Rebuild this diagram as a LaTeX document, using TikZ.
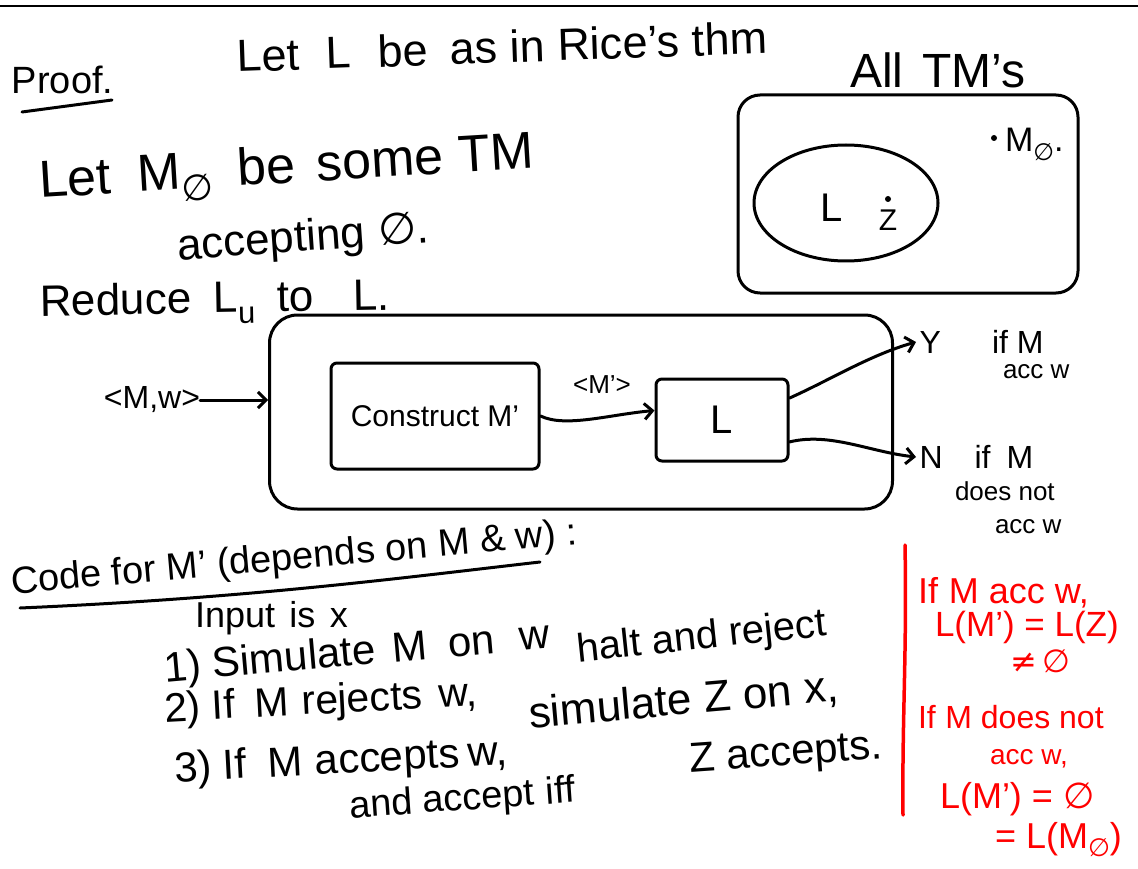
\documentclass[tikz,border=0pt]{standalone}
\usepackage{graphicx}
\usepackage{fontspec}
\setmainfont{Liberation Sans}
\newfontfamily\symf{DejaVu Sans}
\usetikzlibrary{arrows.meta,shapes.geometric}
\definecolor{ink}{RGB}{0,0,0}
\definecolor{redink}{RGB}{255,0,0}
\newcommand{\fs}[1]{\fontsize{#1}{#1}\selectfont}
\newcommand{\es}{{\symf ∅}}
\newcommand{\subs}[1]{\raisebox{-0.45ex}{\scalebox{0.7}{#1}}}
\begin{document}
\begin{tikzpicture}[x=1pt,y=-1pt, line width=3pt, line cap=round, line join=round,
  txt/.style={anchor=base west, inner sep=0pt, outer sep=0pt, text=ink},
  rtxt/.style={txt, text=redink},
  ctr/.style={inner sep=0pt, outer sep=0pt, text=ink},
  dotmark/.style={circle, fill=ink, inner sep=0pt, minimum size=6pt},
  pen/.style={draw=ink, line width=3pt},
  boxA/.style={pen, rectangle, rounded corners=6pt},
  bigbox/.style={pen, rectangle, rounded corners=28pt},
  tip/.style={pen, -{Straight Barb[length=8pt,width=16pt]}}]
\useasboundingbox[fill=white] (0,0) rectangle (1138,869);
% top rule
\coordinate (ruleL) at (0,6);
\coordinate (ruleR) at (1138,6);
\draw[pen, line width=2.5pt] (ruleL) -- (ruleR);

% heading texts
\node[txt, rotate=2] (t1) at (237,72) {\fs{45}Let\hspace{0.6em}L\hspace{0.6em}be\hspace{0.5em}as in Rice's thm};
\node[txt] (alltm) at (850,88) {\fs{48}All\hspace{0.4em}TM's};
\node[txt] (proof) at (12,94) {\fs{38}Proof.};
\coordinate (ulA) at (22,112);
\coordinate (ulB) at (112,100);
\draw[pen] (ulA) -- (ulB);
\node[txt, rotate=3.5] (t2) at (40,198) {\fs{52}Let\hspace{0.5em}M\subs{\es}\hspace{0.5em}be\hspace{0.4em}some\hspace{0.3em}TM};
\node[txt, rotate=4] (t3) at (178,260) {\fs{44}accepting\hspace{0.3em}\es.};
\node[txt, rotate=1] (t4) at (40,316) {\fs{44}Reduce\hspace{0.5em}L\subs{u}\hspace{0.5em}to\hspace{0.9em}L.};

% All TM's set diagram
\node[pen, rectangle, rounded corners=22pt, minimum width=340pt, minimum height=198pt] (all) at (908,194) {};
\node[pen, ellipse, minimum width=184pt, minimum height=116pt] (Lset) at (846,203) {};
\node[ctr] (Lin) at (832,208) {\fs{40}L};
\node[dotmark] (zdot) at (888,199) {};
\node[ctr] (Z) at (888,220) {\fs{30}Z};
\node[dotmark] (mdot) at (994,138) {};
\node[txt] (m0) at (1005,152) {\fs{34}M\subs{\es}.};

% reduction diagram
\node[bigbox, minimum width=623pt, minimum height=194pt] (redbox) at (581,412) {};
\node[boxA, minimum width=208pt, minimum height=106pt] (con) at (435,416) {\fs{30}Construct M'};
\node[boxA, minimum width=132pt, minimum height=82pt] (Lb) at (722,420) {\fs{40}L};
\node[ctr] (inp) at (152,400) {\fs{32}<M,w>};
\draw[tip] (inp.east) -- (redbox.west |- inp.east);
\node[ctr] (mp) at (602,385) {\fs{26}<M'>};
\draw[tip] (con.east) .. controls +(25,12) and +(-45,4) .. (Lb.172);
\node[anchor=west, inner sep=2pt] (ylab) at (916,342) {\fs{32}Y\hspace{1.6em}if M};
\node[txt] (yacc) at (1003,378) {\fs{26}acc w};
\draw[tip] (Lb.18) .. controls (830,380) and (870,355) .. (ylab.west);
\node[anchor=west, inner sep=2pt] (nlab) at (916,457) {\fs{32}N\hspace{1em}if\hspace{0.5em}M};
\node[txt] (ndoes) at (955,500) {\fs{26}does not};
\node[txt] (nacc) at (995,533) {\fs{26}acc w};
\draw[tip] (Lb.-18) .. controls (830,432) and (870,452) .. (nlab.west);

% code for M'
\node[txt, rotate=5] (code) at (12,594) {\fs{38}Code for M' (depends on M \& w) :};
\coordinate (cuA) at (20,608);
\coordinate (cuB) at (540,562);
\draw[pen] (cuA) .. controls (250,598) and (400,578) .. (cuB);
\node[txt] (inpx) at (195,627) {\fs{36}Input\hspace{0.4em}is\hspace{0.4em}x};
\node[txt, rotate=5] (s1) at (165,682) {\fs{42}1) Simulate\hspace{0.4em}M\hspace{0.5em}on\hspace{0.6em}w};
\node[txt, rotate=6] (s1b) at (578,662) {\fs{40}halt and reject};
\node[txt, rotate=3] (s2) at (165,722) {\fs{41}2) If\hspace{0.5em}M\hspace{0.3em}rejects\hspace{0.4em}w,};
\node[txt, rotate=5] (s2b) at (530,728) {\fs{44}simulate Z on x,};
\node[txt, rotate=3] (s3) at (175,782) {\fs{42}3) If\hspace{0.5em}M\hspace{0.3em}accepts\hspace{0.2em}w,};
\node[txt, rotate=4] (s3b) at (690,772) {\fs{42}Z accepts.};
\node[txt, rotate=4] (s3c) at (350,818) {\fs{38}and accept\hspace{0.3em}iff};

% red notes
\coordinate (rTop) at (905,545);
\coordinate (rBot) at (903,815);
\draw[draw=redink, line width=3.5pt] (rTop) .. controls (907,650) and (902,720) .. (rBot);
\node[rtxt] (r1) at (918,603) {\fs{36}If\hspace{0.3em}M acc w,};
\node[rtxt] (r2) at (935,636) {\fs{35}L(M') = L(Z)};
\node[rtxt] (r3) at (1010,672) {\fs{32}{\symf ≠}\,\es};
\node[rtxt] (r4) at (918,728) {\fs{32}If\hspace{0.3em}M does not};
\node[rtxt] (r5) at (990,764) {\fs{28}acc w,};
\node[rtxt] (r6) at (940,808) {\fs{36}L(M') = \es};
\node[rtxt] (r7) at (995,848) {\fs{36}= L(M\subs{\es})};
\end{tikzpicture}
\end{document}
